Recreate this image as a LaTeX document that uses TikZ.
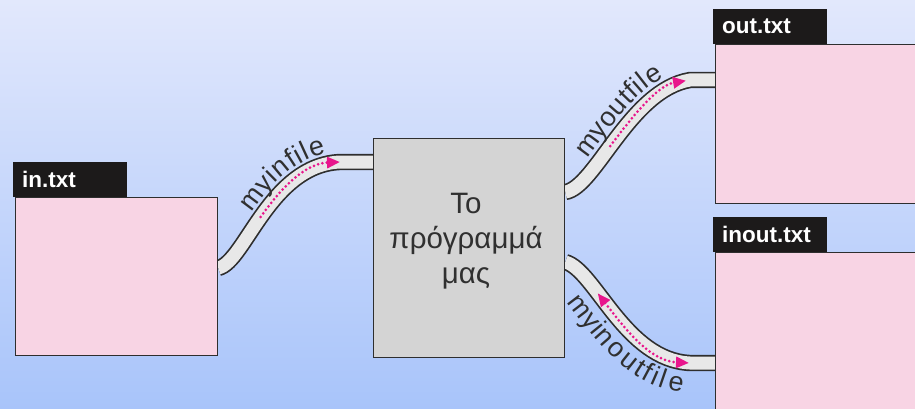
\documentclass[tikz,border=0pt]{standalone}
\usepackage{fontspec}
\setmainfont{Liberation Sans}
\usetikzlibrary{calc,arrows.meta,decorations.text}

\definecolor{bgtop}{RGB}{226,232,252}
\definecolor{bgbot}{RGB}{168,196,250}
\definecolor{filepink}{RGB}{248,212,228}
\definecolor{tabblack}{RGB}{28,26,26}
\definecolor{progfill}{RGB}{212,212,212}
\definecolor{edge}{RGB}{46,46,46}
\definecolor{tubefill}{RGB}{232,232,232}
\definecolor{flow}{RGB}{232,22,140}
\definecolor{ink}{RGB}{48,48,48}

\pgfdeclarelayer{under}
\pgfsetlayers{under,main}

\newcommand\tubelabelfont{\fontsize{27}{27}\selectfont\color{ink}}

\tikzset{
  filebox/.style={draw=edge, line width=1.3pt, fill=filepink, inner sep=0pt,
    anchor=north west},
  filetab/.style={fill=tabblack, text=white, font=\bfseries\fontsize{22.5}{22.5}\selectfont,
    minimum height=35pt, text width=96pt, inner xsep=9pt, inner ysep=0pt,
    align=left, anchor=south west},
  progbox/.style={draw=edge, line width=1.3pt, fill=progfill, inner sep=0pt,
    anchor=north west},
  tube/.style={draw=edge, line width=1.7pt, double=tubefill, double distance=13pt,
    line cap=butt},
  flowline/.style={draw=flow, line width=3pt, dash pattern=on 0pt off 4.4pt,
    line cap=round},
  flowtip/.tip={Triangle[length=13pt, width=11pt]},
  tubelabel/.style={decorate, decoration={text along path,
    text={|\tubelabelfont|#1}}},
}

\begin{document}
\begin{tikzpicture}[x=1pt, y=1pt]
  \useasboundingbox (0,0) rectangle (915,-409);
  \clip (0,0) rectangle (915,-409);

  % files and program
  \node[filebox, minimum width=202pt, minimum height=158pt] (inbox) at (15,-197) {};
  \node[filetab] (intab) at (13,-197) {in.txt};

  \node[progbox, minimum width=191pt, minimum height=219pt] (prog) at (373,-138) {};
  \node[text=ink, font=\fontsize{29.5}{35}\selectfont, align=center]
    (progtext) at (466,-241) {Το\\πρόγραμμά\\μας};

  \node[filebox, minimum width=220pt, minimum height=159pt] (outbox) at (715,-44) {};
  \node[filetab] (outtab) at (713,-44) {out.txt};

  \node[filebox, minimum width=220pt, minimum height=180pt] (ioboxx) at (715,-252) {};
  \node[filetab] (iotab) at (713,-252) {inout.txt};

  % tube end points on the box edges
  \coordinate (inA)  at ($(inbox.north east)+(0,-71)$);
  \coordinate (inB)  at ($(prog.north west)+(-33,-24)$);
  \coordinate (inC)  at ($(prog.north west)+(0,-24)$);
  \coordinate (outA) at ($(prog.north east)+(0,-54)$);
  \coordinate (outB) at ($(outbox.north west)+(-25,-36)$);
  \coordinate (outC) at ($(outbox.north west)+(0,-36)$);
  \coordinate (ioA)  at ($(prog.north east)+(0,-124)$);
  \coordinate (ioB)  at ($(ioboxx.north west)+(-25,-111)$);
  \coordinate (ioC)  at ($(ioboxx.north west)+(0,-111)$);

  \begin{pgfonlayer}{under}
    \shade[top color=bgtop, bottom color=bgbot] (0,0) rectangle (915,-409);

    % streams
    \draw[tube] (inA) .. controls (245,-262) and (270,-165) .. (inB) -- (inC);
    \draw[tube] (outA) .. controls (595,-188) and (630,-90) .. (outB) -- (outC);
    \draw[tube] (ioA) .. controls (595,-270) and (625,-360) .. (ioB) -- (ioC);
  \end{pgfonlayer}

  % data flow inside the streams
  \draw[flowline, -{flowtip}] (260.6,-216.9) .. controls (279.4,-190.5) and (303.6,-163.6) .. (inB);
  \draw[flowline, -{flowtip}, shorten >=4pt] (610.2,-146.1) .. controls (631.6,-117.6) and (657,-85.5) .. (outB);
  \draw[flowline, {flowtip}-{flowtip}, shorten >=1pt] (597.7,-293.3) .. controls (620.3,-322.4) and (647.8,-361.1) .. (ioB);

  % stream names
  \path[tubelabel=myinfile, decoration={text align={left indent=65pt}, raise=10pt}]
    (inA) .. controls (245,-262) and (270,-165) .. (inB) -- (inC);
  \path[tubelabel=myoutfile, decoration={text align={left indent=42pt}, raise=11pt}]
    (outA) .. controls (595,-188) and (630,-90) .. (outB) -- (outC);
  \path[tubelabel=myinoutfile, decoration={text align={left indent=34pt}, raise=-30pt}]
    (ioA) .. controls (595,-270) and (625,-360) .. (ioB) -- (ioC);
\end{tikzpicture}
\end{document}
